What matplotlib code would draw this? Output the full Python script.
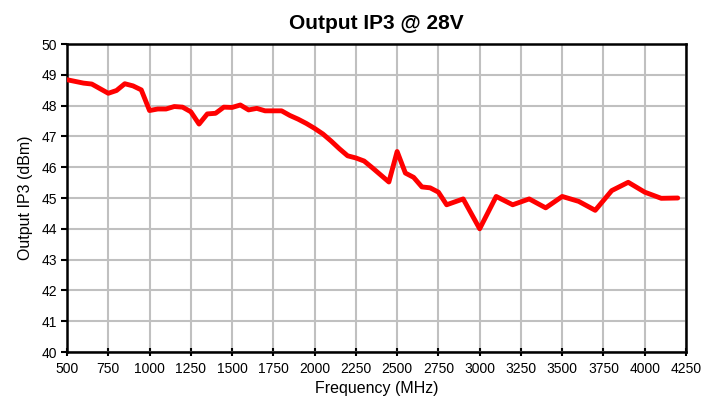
import matplotlib
matplotlib.use("Agg")
import matplotlib.pyplot as plt

freq_mhz = [500, 600, 650, 750, 800, 850, 900, 950, 1000, 1050, 1100, 1150, 1200, 1250,
            1300, 1350, 1400, 1450, 1500, 1550, 1600, 1650, 1700, 1750, 1800, 1850, 1900,
            1950, 2000, 2050, 2100, 2150, 2200, 2250, 2300, 2350, 2400, 2450, 2500, 2550,
            2600, 2650, 2700, 2750, 2800, 2900, 3000, 3100, 3200, 3300, 3400, 3500, 3600,
            3700, 3800, 3900, 4000, 4100, 4200]
oip3_dbm = [48.84, 48.73, 48.70, 48.40, 48.49, 48.71, 48.64, 48.51, 47.84, 47.89, 47.89,
            47.97, 47.95, 47.80, 47.40, 47.73, 47.75, 47.95, 47.94, 48.02, 47.86, 47.91,
            47.83, 47.83, 47.83, 47.68, 47.56, 47.42, 47.26, 47.08, 46.85, 46.60, 46.37,
            46.30, 46.20, 45.98, 45.75, 45.52, 46.51, 45.81, 45.67, 45.36, 45.33, 45.19,
            44.78, 44.97, 44.00, 45.05, 44.78, 44.97, 44.68, 45.05, 44.89, 44.60, 45.24,
            45.51, 45.19, 44.99, 45.00]

x_ticks = list(range(500, 4251, 250))
y_ticks = list(range(40, 51, 1))

plt.rcParams['font.family'] = ['Liberation Sans', 'DejaVu Sans']

fig = plt.figure(figsize=(7.21, 4.0), dpi=100)
ax = fig.add_axes([67/721, 48/400, 619/721, 308/400])

ax.plot(freq_mhz, oip3_dbm, color='#ff0000', linewidth=3.5, solid_joinstyle='round',
        solid_capstyle='round', zorder=3)

ax.set_xlim(500, 4250)
ax.set_ylim(40, 50)
ax.set_xticks(x_ticks)
ax.set_yticks(y_ticks)
ax.tick_params(axis='both', labelsize=10, length=4, width=1.5, color='black')
ax.tick_params(axis='x', direction='inout', length=6, pad=4)
ax.tick_params(axis='y', direction='out', pad=3)
ax.grid(True, color='#c0c0c0', linewidth=1.5, zorder=0)
ax.set_axisbelow(True)
for s in ax.spines.values():
    s.set_linewidth(1.8)
    s.set_color('black')

ax.set_xlabel('Frequency (MHz)', fontsize=11.5, labelpad=4)
ax.set_ylabel('Output IP3 (dBm)', fontsize=11.5, labelpad=6)
ax.set_title('Output IP3 @ 28V', fontsize=15, fontweight='bold', pad=11)

fig.savefig('out.png', dpi=100)
